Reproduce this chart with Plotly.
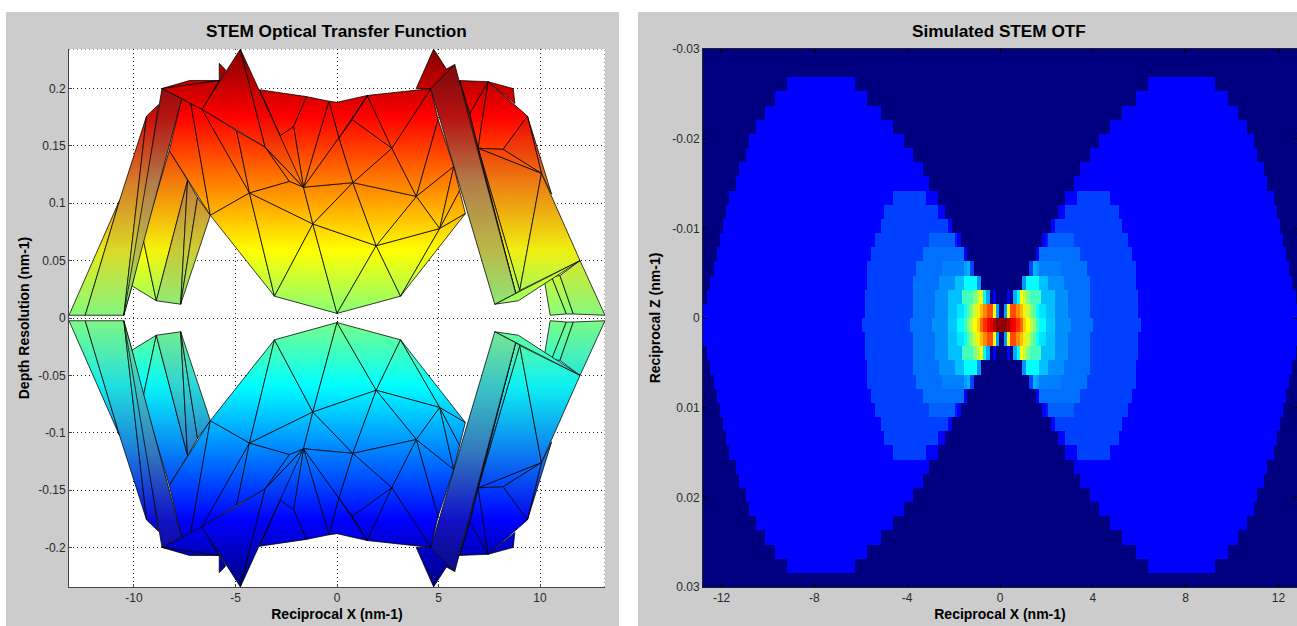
import numpy as np
import plotly.graph_objects as go

# ---------- left chart: mesh vertices (upper sheet) ----------
vertex_x = [-13.2,-12.4,-10.5,-10.1,-8.9,-7.7,-6.24,-7.36,-6.87,-9.55,-8.26,-8.62,-8.79,-9.38,-10.7,-7.65,-7.2,-6.65,
            -5.8,-7.27,-5.8,-5.47,-4.76,-3.54,-4.94,-4.31,-3.08,-1.19,-1.65,-2.34,-2.8,-2.14,-1.51,-0.4,-3.82,0.0,
            0.78,1.93,3.13,5.06,3.91,2.7,0.09,0.75,1.49,0.0,4.62,3.9,4.76,5.39,5.8,4.98,5.75,6.32,7.77,8.93,8.8,
            11.97,13.2,11.3,10.98,10.57,10.24,10.5,10.07,6.95,8.18,9.38,8.68,8.76,7.44,6.04,6.54,6.04,10.57,9.0,11.64]
vertex_y = [.0024,.0024,.0024,.028,.015,.012,.0895,.12,.105,.069,.146,.2,.186,.176,.103,.191,.187,.182,
            .207,.207,.222,.216,.2344,.149,.163,.109,.019,.082,.114,.119,.159,.167,.193,.189,.199,.004,
            .118,.063,.019,.078,.106,.148,.157,.173,.194,.188,.2,.2,.2344,.217,.221,.173,.132,.091,.012,.015,.0215,
            .05,.0024,.0035,.037,.036,.03,.0024,.126,.148,.147,.176,.2,.187,.206,.207,.178,.111,.108,.024,.0035]
faces = [
    [18,20,21,17],[11,19,18],[47,48,49,50,46],[71,70,72],[70,65,72],[70,69,68],[70,67,66,65],[67,74,64],[67,64,66],
    [63,62,61,59],[61,60,76,59],[60,57,58,76],
    [0,1,14],[1,2,13,14],[2,13,12,3],[3,9,4],[9,10,7,4],[4,7,5],[5,7,8],[5,8,6],
    [15,10,6,16],[16,6,25,17],[17,25,24],[24,25,29,23],[23,29,28],[6,26,25],[25,26,27],[25,27,28,29],[26,35,27],
    [27,36,28],[27,35,37],[27,37,36],[35,38,37],[37,38,39],[37,39,40],[36,37,40],[36,40,41],[41,46,51,40],[40,51,52],
    [40,52,39],[39,52,73],[39,73,53],[38,39,53],[36,41,43,42],[41,44,43],[41,46,44],[42,43,44],[42,44,45,33],
    [28,42,33],[28,36,42],[28,33,32,31],[23,30,31,28],[30,34,32,31],[23,34,30],
    [11,15,17,18],[2,3,15,11],[17,22,23],[22,28,23],
    [65,66,64],[65,64,75],[64,57,75],[65,75,56],[54,55,57,56],[71,72,65,56],[46,50,56,54],
]
face_shade = [
    0.1,0,0,0,0,0,0,0.3,0.15,
    0.1,0.1,0.25,
    0.2,0.35,0.45,0,0.1,0.5,0.5,0.45,
    0,0,0,0,0,0,0,0,0,
    0,0,0,0,0,0,0,0,0,0,
    0,0,0,0,0,0,0,0,0,
    0,0,0,0,0,0,
    0,0.65,0,0.1,
    0.05,0.15,0.15,0.15,0,0.3,0.65,
]
left_xticks = [-10,-5,0,5,10]
left_xticklabels = ["-10","-5","0","5","10"]
left_yticks = [-0.2,-0.15,-0.1,-0.05,0,0.05,0.1,0.15,0.2]
left_yticklabels = ["-0.2","-0.15","-0.1","-0.05","0","0.05","0.1","0.15","0.2"]

# ---------- right chart: per row, right edges of the runs (half width) and their levels ----------
row_edges = [
    [6.36,9.27],[5.82,9.81],[5.24,10.23],[4.70,10.65],[4.28,10.93],[3.86,11.08],[3.45,11.36],[3.19,11.48],
    [2.79,3.33,4.70,11.78],
    [2.49,2.79,5.11,11.90],
    [2.21,2.37,5.24,12.04],
    [1.80,1.94,2.08,3.19,5.53,12.20],
    [1.55,1.68,3.45,5.66,12.31],
    [1.25,1.39,1.55,1.68,2.63,3.75,5.82,12.43],
    [.95,1.12,1.68,2.08,2.77,3.88,5.82,12.60],
    [.29,.43,.55,.72,.83,.98,1.12,1.26,1.75,2.37,2.92,3.88,5.95,12.74],
    [.14,.29,.43,.69,.83,.98,1.12,1.26,1.39,1.54,1.68,1.95,2.37,2.92,3.88,5.95,13.5],
    [.26,.43,.57,.69,.83,.98,1.12,1.26,1.39,1.54,1.68,1.95,2.37,3.05,3.99,6.08,13.5],
]
row_levels = [
    [0,.125],[0,.125],[0,.125],[0,.125],[0,.125],[0,.125],[0,.125],[0,.125],
    [0,.125,.188,.125],
    [0,.125,.188,.125],
    [0,.125,.188,.125],
    [0,.125,.15,.22,.188,.125],
    [0,.125,.235,.188,.125],
    [0,.19,.30,.28,.25,.235,.188,.125],
    [0,.27,.375,.313,.266,.235,.188,.125],
    [0,.125,0,.29,.375,.625,.5625,.5,.44,.313,.266,.235,.188,.125],
    [0,.28,.625,.80,.74,.69,.64,.57,.51,.45,.39,.35,.313,.266,.235,.188,.125],
    [.985,.95,.905,.875,.83,.77,.67,.625,.5625,.5,.44,.375,.32,.266,.235,.188,.125],
]
right_xticks = [-12,-8,-4,0,4,8,12]
right_xticklabels = ["-12","-8","-4","0","4","8","12"]
right_yticks = [-0.03,-0.02,-0.01,0,0.01,0.02,0.03]
right_yticklabels = ["-0.03","-0.02","-0.01","0","0.01","0.02","0.03"]

FONT = "Liberation Sans"
JET = [(0,(0,0,128)),(.125,(0,0,255)),(.375,(0,255,255)),(.625,(255,255,0)),(.875,(255,0,0)),(1,(128,0,0))]
# colour stops of the shaded faces: how much of the shade reaches each stop, and the grey it moves toward
SHADE_STOPS = [(0,.3,40),(.125,.45,60),(.25,.7,110),(.375,.7,130),(.5,.2,150),(.625,.85,130),(.75,.9,125),
               (.875,.55,50),(1,.3,30)]

def jet(p):
    for (a, ca), (b, cb) in zip(JET, JET[1:]):
        if p <= b:
            t = (p - a) / (b - a)
            return [ca[i] + (cb[i] - ca[i]) * t for i in range(3)]
    return list(JET[-1][1])

def scale(mix):
    out = []
    for p, w, grey in SHADE_STOPS:
        m = mix * w
        c = [round(v * (1 - m) + grey * m) for v in jet(p)]
        out.append([round(1 - p, 4), f"rgb({c[0]},{c[1]},{c[2]})"])   # 0 = gradient start = top of the axis
    return out[::-1]

YTOP = 0.2345
fig = go.Figure()
for sign in (-1, 1):
    for f, mix in zip(faces, face_shade):
        xs = [vertex_x[i] for i in f] + [vertex_x[f[0]]]
        ys = [sign*vertex_y[i] for i in f] + [sign*vertex_y[f[0]]]
        fig.add_trace(go.Scatter(x=xs, y=ys, mode="lines", fill="toself",
                                 line=dict(color="rgba(0,0,0,0.85)", width=0.9),
                                 fillgradient=dict(type="vertical", colorscale=scale(mix), start=YTOP, stop=-YTOP),
                                 hoverinfo="skip", showlegend=False, xaxis="x", yaxis="y"))

x_cols = np.arange(-12.82, 12.86, 0.04)
eff = np.where(x_cols < 0.056, 0.112 - x_cols, x_cols)
n_rows = 38
y_rows = [-0.03 + (k + 0.5) * 0.06 / n_rows for k in range(n_rows)]
z = np.zeros((n_rows, len(x_cols)))
for j, (edges, levels) in enumerate(zip(row_edges, row_levels)):
    lv = np.array(levels + [0])
    vals = lv[np.searchsorted(edges, eff)]
    z[2 + j] = vals
    z[36 - j] = vals
fig.add_trace(go.Heatmap(x=x_cols, y=y_rows, z=z, zmin=0, zmax=1, showscale=False, zsmooth=False,
                         colorscale=[[p, f"rgb{c}"] for p, c in JET], hoverinfo="skip", xaxis="x2", yaxis="y2"))

W, H = 1297, 626
tickf = dict(family=FONT, size=12, color="#2a2a2a")
titlef = dict(family=FONT, size=14, color="black", weight="bold")
def dom(a, b, total): return [a/total, b/total]
ydom = [1-587/H, 1-49/H]
DOTS = "1px,3px"

fig.update_layout(
    width=W, height=H, margin=dict(l=0, r=0, t=0, b=0), autosize=False,
    paper_bgcolor="white", plot_bgcolor="white", showlegend=False,
    xaxis=dict(domain=dom(69, 605, W), range=[-13.2, 13.2], tickvals=left_xticks, ticktext=left_xticklabels,
               ticks="inside", ticklen=3, automargin=False,
               tickcolor="#444", linecolor="#444", linewidth=1, showline=True, zeroline=False,
               showgrid=True, gridcolor="#222", griddash=DOTS, gridwidth=1, tickfont=tickf,
               title=dict(text="Reciprocal X (nm-1)", font=titlef, standoff=4)),
    yaxis=dict(domain=ydom, range=[-YTOP, YTOP], tickvals=left_yticks, ticktext=left_yticklabels, ticks="inside",
               ticklen=3, tickcolor="#444", linecolor="#444", linewidth=1, showline=True, zeroline=False, automargin=False,
               showgrid=True, gridcolor="#222", griddash=DOTS, gridwidth=1, tickfont=tickf,
               title=dict(text="Depth Resolution (nm-1)", font=titlef, standoff=5)),
    xaxis2=dict(domain=dom(703, 1297, W), range=[-12.8, 12.8], tickvals=right_xticks, ticktext=right_xticklabels,
                ticks="inside", ticklen=4, automargin=False,
                tickcolor="black", linecolor="#222", linewidth=1, showline=True, mirror="ticks", zeroline=False,
                showgrid=False, tickfont=tickf, anchor="y2",
                title=dict(text="Reciprocal X (nm-1)", font=titlef, standoff=4)),
    yaxis2=dict(domain=ydom, range=[0.03, -0.03], tickvals=right_yticks, ticktext=right_yticklabels, ticks="inside",
                ticklen=4, tickcolor="black", linecolor="#222", linewidth=1, showline=True, mirror="ticks", automargin=False,
                zeroline=False, showgrid=False, tickfont=tickf, anchor="x2",
                title=dict(text="Reciprocal Z (nm-1)", font=titlef, standoff=8)),
    shapes=[
        dict(type="rect", xref="paper", yref="paper", x0=6/W, x1=619/W, y0=0, y1=1-12/H, layer="below",
             fillcolor="#cccccc", line_width=0),
        dict(type="rect", xref="paper", yref="paper", x0=638/W, x1=1, y0=0, y1=1-12/H, layer="below",
             fillcolor="#cccccc", line_width=0),
        dict(type="rect", xref="x", yref="y", x0=-13.2, x1=13.2, y0=-YTOP, y1=YTOP, layer="below",
             fillcolor="white", line_width=0),
        dict(type="line", xref="x", yref="y", x0=-13.2, x1=13.2, y0=YTOP, y1=YTOP, layer="below",
             line=dict(color="#222", width=1, dash=DOTS)),
        dict(type="line", xref="x", yref="y", x0=13.2, x1=13.2, y0=-YTOP, y1=YTOP, layer="below",
             line=dict(color="#222", width=1, dash=DOTS)),
    ],
    annotations=[
        dict(text="STEM Optical Transfer Function", xref="paper", yref="paper", x=336/W, y=1-31/H, showarrow=False,
             xanchor="center", yanchor="middle", font=dict(family=FONT, size=17.2, color="black", weight="bold")),
        dict(text="Simulated STEM OTF", xref="paper", yref="paper", x=998.5/W, y=1-31/H, showarrow=False,
             xanchor="center", yanchor="middle", font=dict(family=FONT, size=17.2, color="black", weight="bold")),
    ],
)
fig.write_html("out.html", config={"displayModeBar": False},
               post_script="document.body.style.margin='0';document.body.style.overflow='hidden';")
